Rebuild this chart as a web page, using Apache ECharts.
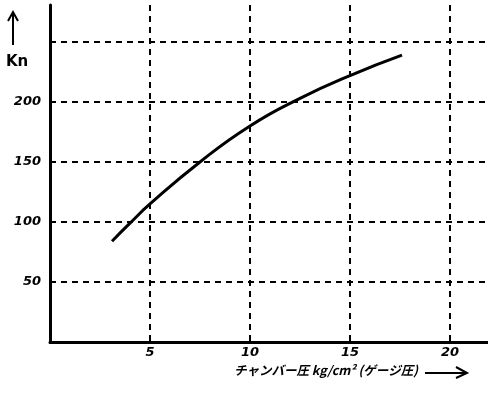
<!DOCTYPE html>
<html><head><meta charset="utf-8">
<script src="https://cdn.jsdelivr.net/npm/echarts@6/dist/echarts.min.js"></script>
<style>html,body{margin:0;padding:0;background:#fff}#c{width:488px;height:393px}</style>
</head><body><div id="c"></div>
<script>
var pressure = [3.1, 4, 5, 7.5, 10, 12.5, 15, 17.6];
var kn = [84, 99, 115, 150, 180, 203, 222, 239];
var xTickLabels = [5, 10, 15, 20];
var yTickLabels = [50, 100, 150, 200];
var xAxisTitle = 'チャンバー圧 kg/cm² (ゲージ圧)';
var yAxisTitle = 'Kn';

var data = pressure.map(function (p, i) { return [p, kn[i]]; });
var chart = echarts.init(document.getElementById('c'), null, {renderer: 'canvas'});
var font = 'DejaVu Sans';
var dash = {color: '#000', width: 2, type: [6, 5]};
chart.setOption({
  animation: false,
  backgroundColor: '#fff',
  grid: {left: 50, top: 5, right: 0, bottom: 51, containLabel: false},
  xAxis: {
    type: 'value', min: 0, max: 21.9, interval: 5,
    axisLine: {show: true, lineStyle: {color: '#000', width: 3}},
    axisTick: {show: false},
    axisLabel: {
      showMinLabel: false, showMaxLabel: false, margin: 4,
      color: '#000', fontFamily: font, fontStyle: 'italic', fontWeight: 'bold', fontSize: 13,
      formatter: function (v) { return xTickLabels.indexOf(v) >= 0 ? String(v) : ''; }
    },
    splitLine: {show: true, showMinLine: false, showMaxLine: false, lineStyle: dash}
  },
  yAxis: {
    type: 'value', min: 0, max: 280.8, interval: 50,
    axisLine: {show: true, lineStyle: {color: '#000', width: 3}},
    axisTick: {show: false},
    axisLabel: {
      showMinLabel: false, showMaxLabel: false, margin: 9,
      color: '#000', fontFamily: font, fontStyle: 'italic', fontWeight: 'bold', fontSize: 13,
      formatter: function (v) { return yTickLabels.indexOf(v) >= 0 ? String(v) : ''; }
    },
    splitLine: {show: true, showMinLine: false, showMaxLine: false, lineStyle: dash}
  },
  series: [{
    type: 'line', data: data, smooth: 0.5, showSymbol: false,
    lineStyle: {color: '#000', width: 3}
  }],
  graphic: [
    {type: 'text', left: 234, top: 364, style: {text: xAxisTitle, font: 'bold italic 12.5px "Noto Sans CJK JP"', fill: '#000'}},
    {type: 'line', shape: {x1: 425, y1: 373, x2: 466, y2: 373}, style: {stroke: '#000', lineWidth: 2}},
    {type: 'polyline', shape: {points: [[456, 367], [467, 373], [456, 378]]}, style: {stroke: '#000', lineWidth: 2, fill: null}},
    {type: 'line', shape: {x1: 13, y1: 14, x2: 13, y2: 45}, style: {stroke: '#000', lineWidth: 2}},
    {type: 'polyline', shape: {points: [[8, 21], [13, 12], [18, 21]]}, style: {stroke: '#000', lineWidth: 2, fill: null}},
    {type: 'text', left: 6, top: 55, style: {text: yAxisTitle, font: 'bold 15px "DejaVu Sans"', fill: '#000'}}
  ]
});
</script></body></html>
